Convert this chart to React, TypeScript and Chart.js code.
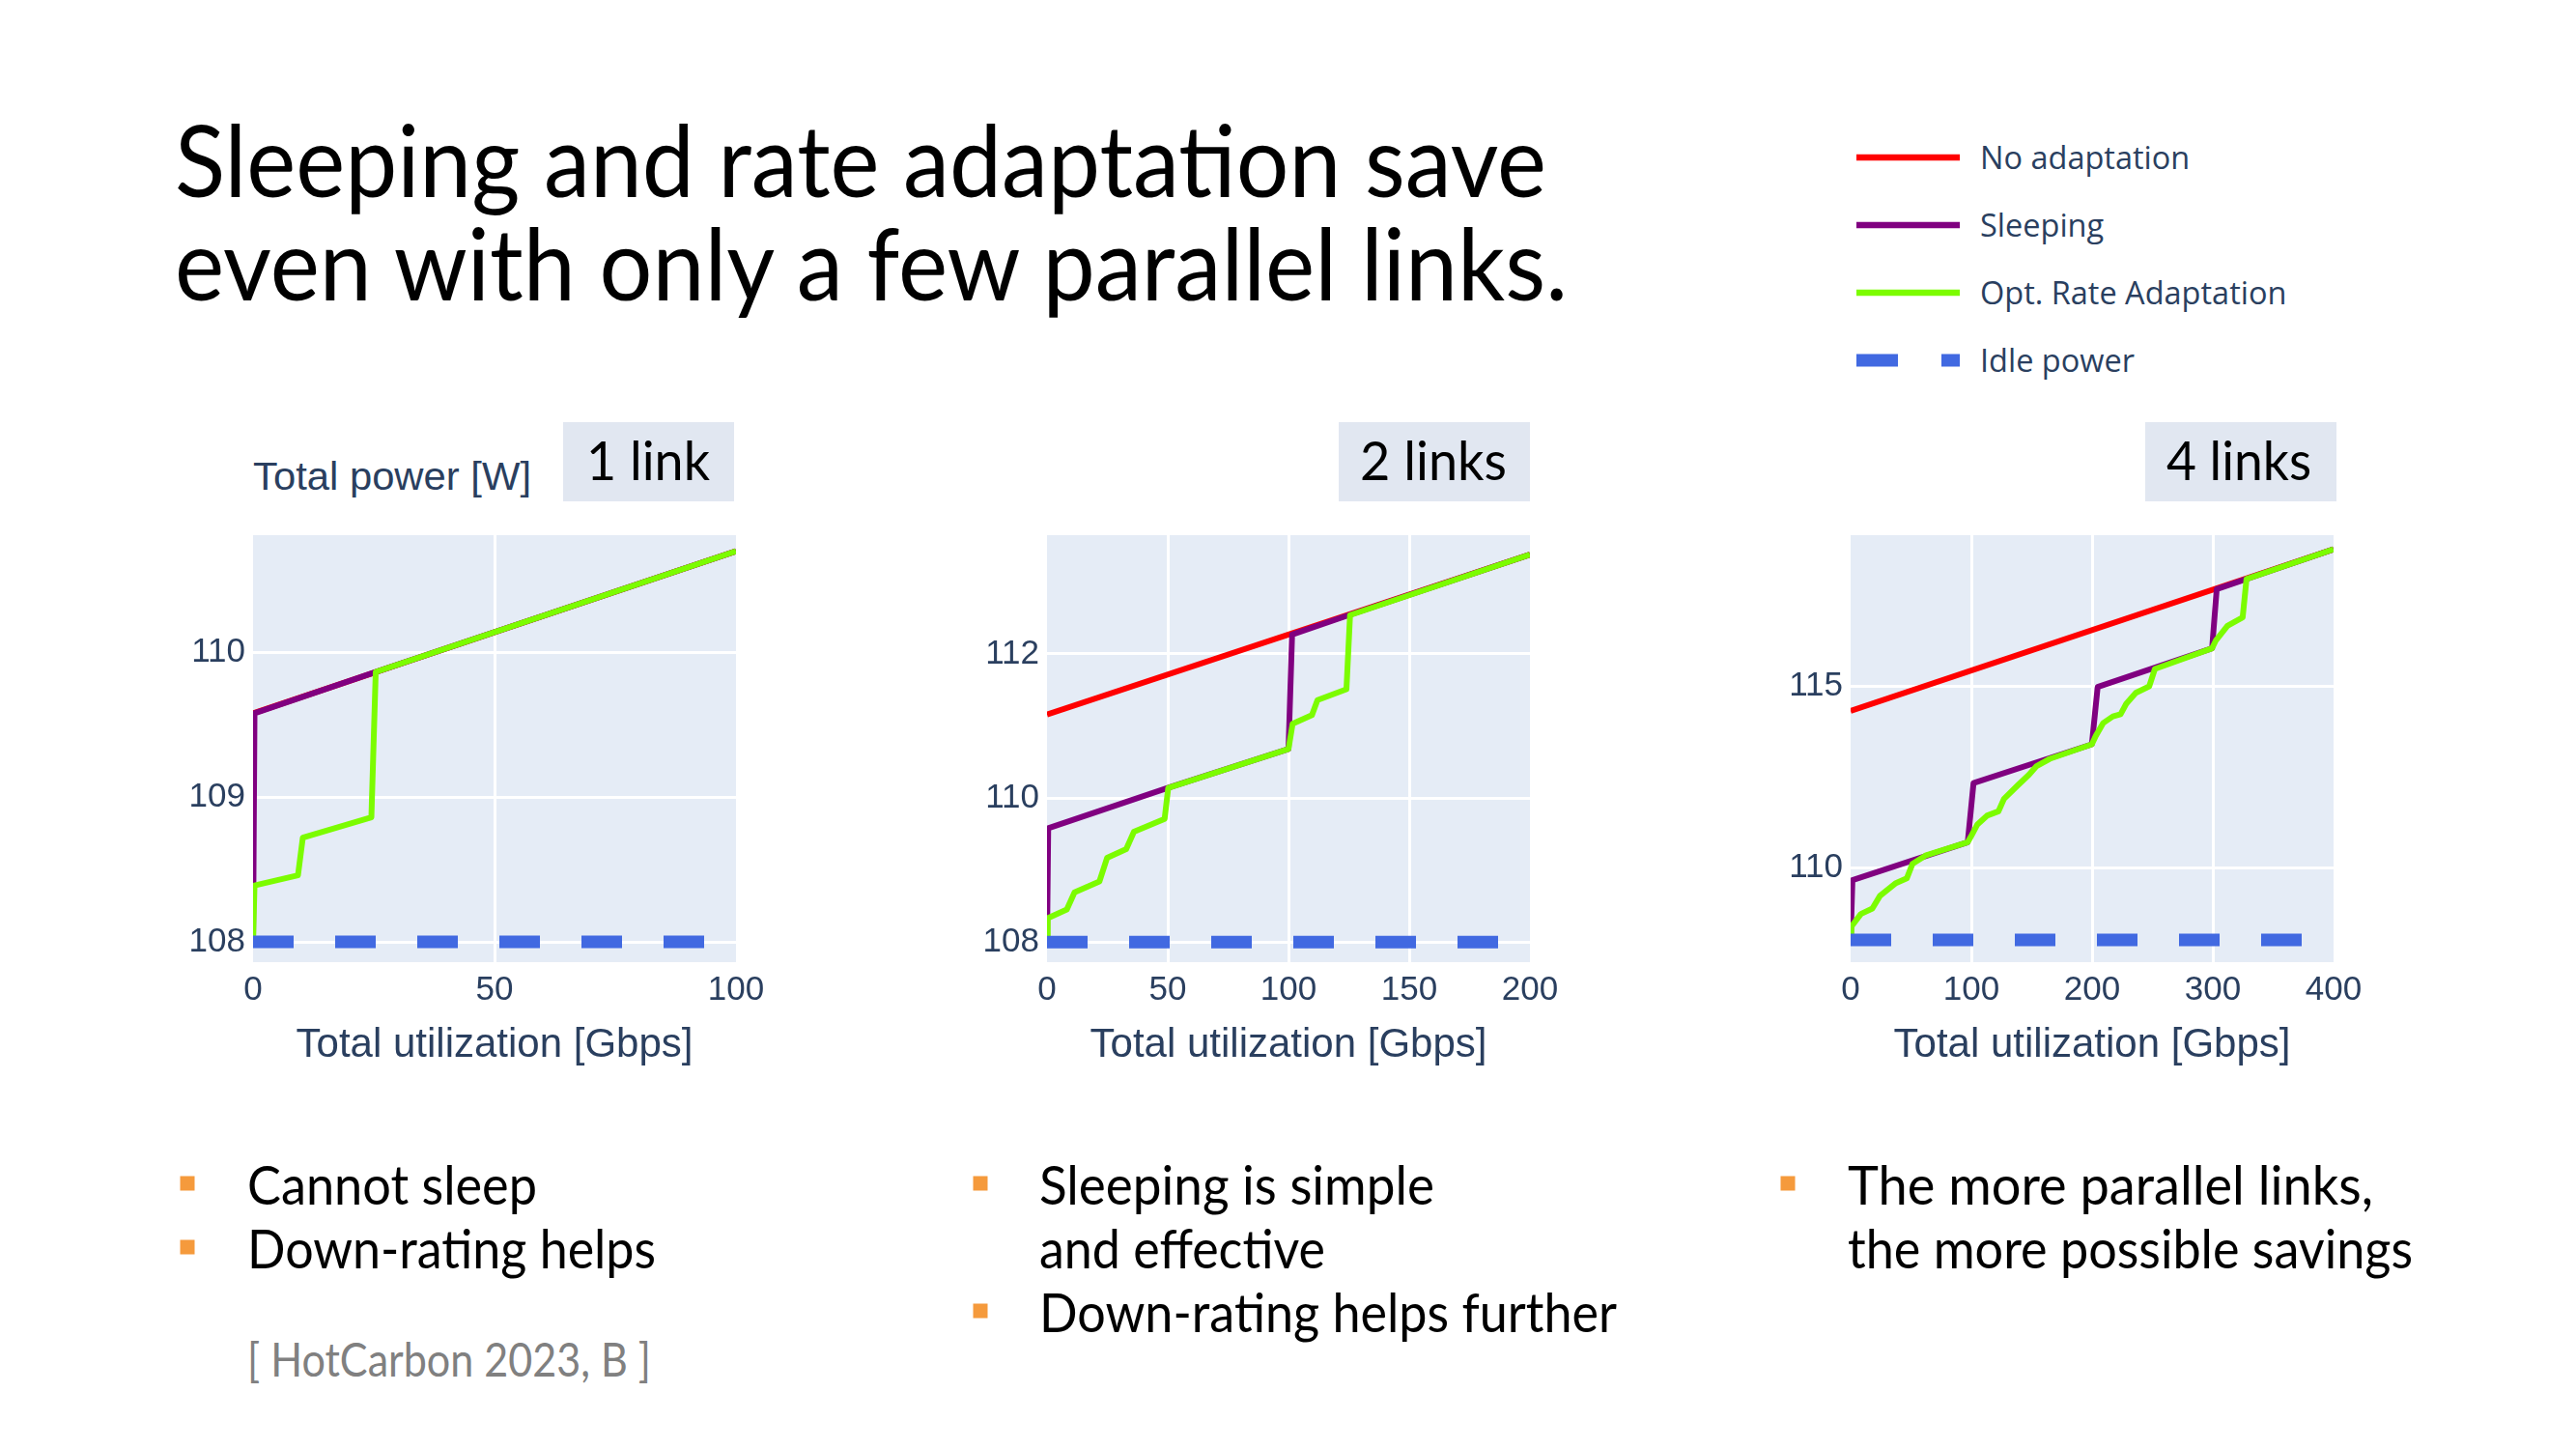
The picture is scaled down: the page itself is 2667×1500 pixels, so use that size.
import React, { useEffect, useRef } from 'react';
import { Chart, registerables } from 'chart.js';

Chart.register(...registerables);

type Pt = [number, number];

// ---------------- data ----------------
const seriesNames = ['No adaptation', 'Sleeping', 'Opt. Rate Adaptation', 'Idle power'];
const seriesColors = ['#FF0000', '#800080', '#7CFC00', '#4169E1'];

const xAxisTitle = 'Total utilization [Gbps]';
const yAxisTitle = 'Total power [W]';
const panelLabels = ['1 link', '2 links', '4 links'];

// 1 link
const xTicks1 = [0, 50, 100];
const yTicks1 = [108, 109, 110];
const noAdapt1: Pt[] = [[0, 109.58], [100, 110.7]];
const sleeping1: Pt[] = [[0, 108], [0.3, 109.58], [25.4, 109.865], [100, 110.7]];
const rateAdapt1: Pt[] = [[0, 108], [0.3, 108.39], [9.3, 108.46], [10.3, 108.72], [24.5, 108.86], [25.4, 109.865], [100, 110.7]];
const idle1: Pt[] = [[0, 108], [100, 108]];

// 2 links
const xTicks2 = [0, 50, 100, 150, 200];
const yTicks2 = [108, 110, 112];
const noAdapt2: Pt[] = [[0, 111.16], [200, 113.38]];
const sleeping2: Pt[] = [[0, 108], [0.5, 109.58], [50, 110.14], [100, 110.68], [101.5, 112.27], [125, 112.54], [200, 113.38]];
const rateAdapt2: Pt[] = [[0, 108], [0.3, 108.33], [8.2, 108.45], [11.4, 108.69], [21.7, 108.84], [24.9, 109.17], [32.8, 109.29], [36, 109.53], [48.7, 109.71], [50.2, 110.14], [100, 110.68], [101.7, 111.03], [109.7, 111.15], [112, 111.36], [124, 111.51], [125.5, 112.54], [200, 113.38]];
const idle2: Pt[] = [[0, 108], [200, 108]];

// 4 links
const xTicks3 = [0, 100, 200, 300, 400];
const yTicks3 = [110, 115];
const noAdapt3: Pt[] = [[0, 114.32], [400, 118.78]];
const sleeping3: Pt[] = [[0, 108], [1.5, 109.65], [97, 110.7], [101.8, 112.33], [199.8, 113.4], [204.6, 114.98], [299.4, 116.05], [303.2, 117.68], [400, 118.78]];
const rateAdapt3: Pt[] = [[0, 108], [0.6, 108.37], [8.5, 108.72], [18, 108.87], [24.3, 109.22], [37, 109.56], [46.5, 109.7], [51.2, 110.1], [62, 110.33], [97, 110.7], [100.2, 110.89], [105, 111.19], [112.9, 111.43], [122.4, 111.55], [127.1, 111.9], [138.2, 112.26], [147.7, 112.56], [154, 112.8], [165, 113.0], [199.8, 113.4], [203, 113.63], [209.3, 113.99], [217.2, 114.17], [223.6, 114.23], [228.3, 114.52], [236.2, 114.82], [247.3, 115.0], [252, 115.48], [299.4, 116.05], [302.6, 116.27], [312.1, 116.67], [324.7, 116.9], [327.9, 117.96], [400, 118.78]];
const idle3: Pt[] = [[0, 108], [400, 108]];

// slide text
const titleLines = ['Sleeping and rate adaptation save', 'even with only a few parallel links.'];
const bulletsCol1 = ['Cannot sleep', 'Down-rating helps'];
const citation = '[ HotCarbon 2023, B ]';
const bulletsCol2 = ['Sleeping is simple', 'and effective', 'Down-rating helps further'];
const bulletsCol3 = ['The more parallel links,', 'the more possible savings'];

// ---------------- style / geometry ----------------
const SLIDE_FONT = "Lato, 'DejaVu Sans', sans-serif";
const PLOT_FONT = "'Liberation Sans', Arial, sans-serif";
const LEGEND_FONT = "'Open Sans', sans-serif";
const AXIS_COLOR = '#2a3f5f';
const PLOT_BG = '#E5ECF6';
const BOX_BG = '#E1E7F1';
const BULLET_COLOR = '#F59A3C';

const PLOT_TOP = 554;
const PLOT_W = 500;
const PLOT_H = 442;
const Y_AXIS_W = 100;
const X_AXIS_H = 130;
const PAD_T = 10;
const PAD_R = 50;
const CANVAS_W = Y_AXIS_W + PLOT_W + PAD_R;
const CANVAS_H = PAD_T + PLOT_H + X_AXIS_H;
const LINE_W = 6;

const plotBg = {
  id: 'plotBg',
  beforeDraw(chart: any) {
    const { ctx, chartArea: a } = chart;
    ctx.save();
    ctx.fillStyle = PLOT_BG;
    ctx.fillRect(a.left, a.top, a.right - a.left, a.bottom - a.top);
    ctx.restore();
  },
};

type ChartProps = {
  left: number;
  xMax: number;
  yMin: number;
  yMax: number;
  xTicks: number[];
  yTicks: number[];
  noAdapt: Pt[];
  sleeping: Pt[];
  rateAdapt: Pt[];
  idle: Pt[];
};

function PowerChart(p: ChartProps) {
  const ref = useRef<HTMLCanvasElement | null>(null);
  useEffect(() => {
    const canvas = ref.current;
    if (!canvas) return;
    const toXY = (a: Pt[]) => a.map(([x, y]) => ({ x, y }));
    const ds = (i: number, pts: Pt[], extra: any = {}) => ({
      label: seriesNames[i],
      data: toXY(pts),
      borderColor: seriesColors[i],
      backgroundColor: seriesColors[i],
      borderWidth: LINE_W,
      pointRadius: 0,
      pointHoverRadius: 0,
      tension: 0,
      fill: false,
      borderJoinStyle: 'round',
      order: 3 - i,
      ...extra,
    });
    const tickFont = { family: PLOT_FONT, size: 35 };
    const chart = new Chart(canvas, {
      type: 'line',
      data: {
        datasets: [
          ds(0, p.noAdapt),
          ds(1, p.sleeping),
          ds(2, p.rateAdapt),
          ds(3, p.idle, { borderWidth: 13, borderDash: [42, 43], borderJoinStyle: 'miter' }),
        ] as any,
      },
      options: {
        responsive: false,
        animation: false,
        devicePixelRatio: 1,
        events: [],
        layout: { padding: { top: PAD_T, right: PAD_R, left: 0, bottom: 0 } },
        plugins: { legend: { display: false }, tooltip: { enabled: false }, title: { display: false } },
        scales: {
          x: {
            type: 'linear',
            min: 0,
            max: p.xMax,
            afterBuildTicks: (axis: any) => {
              axis.ticks = p.xTicks.map((v) => ({ value: v }));
            },
            afterFit: (axis: any) => {
              axis.height = X_AXIS_H;
              axis.paddingLeft = 0;
              axis.paddingRight = 0;
            },
            grid: {
              drawTicks: false,
              lineWidth: 3,
              color: (c: any) =>
                c.tick && (c.tick.value === 0 || c.tick.value === p.xMax) ? 'rgba(255,255,255,0)' : '#ffffff',
            },
            border: { display: false },
            ticks: {
              padding: 8,
              autoSkip: false,
              maxRotation: 0,
              minRotation: 0,
              color: AXIS_COLOR,
              font: tickFont,
              callback: (v: any) => String(v),
            },
            title: {
              display: true,
              text: xAxisTitle,
              color: AXIS_COLOR,
              font: { family: PLOT_FONT, size: 42 },
              padding: { top: 0, bottom: 18 },
            },
          },
          y: {
            type: 'linear',
            min: p.yMin,
            max: p.yMax,
            afterBuildTicks: (axis: any) => {
              axis.ticks = p.yTicks.map((v) => ({ value: v }));
            },
            afterFit: (axis: any) => {
              axis.width = Y_AXIS_W;
              axis.paddingTop = 0;
              axis.paddingBottom = 0;
            },
            grid: { drawTicks: false, lineWidth: 3, color: '#ffffff' },
            border: { display: false },
            ticks: {
              padding: 8,
              autoSkip: false,
              color: AXIS_COLOR,
              font: tickFont,
              callback: (v: any) => String(v),
            },
          },
        },
      } as any,
      plugins: [plotBg],
    });
    return () => chart.destroy();
  }, []);
  return (
    <canvas
      ref={ref}
      width={CANVAS_W}
      height={CANVAS_H}
      style={{ position: 'absolute', left: p.left - Y_AXIS_W, top: PLOT_TOP - PAD_T, width: CANVAS_W, height: CANVAS_H }}
    />
  );
}

function SText(props: { x: number; y: number; w?: number; size: number; font?: string; color?: string; children: string }) {
  const { x, y, w, size, font = SLIDE_FONT, color = '#000', children } = props;
  const extra: any = w ? { textLength: w, lengthAdjust: 'spacingAndGlyphs' } : {};
  return (
    <text x={x} y={y} fontFamily={font} fontSize={size} fill={color} {...extra}>
      {children}
    </text>
  );
}

function Bullet({ cx, baseline }: { cx: number; baseline: number }) {
  return <rect x={cx - 7.5} y={baseline - 22 - 7.5} width={15} height={15} fill={BULLET_COLOR} />;
}

export default function App() {
  const legendY = [163, 233, 303, 373];
  return (
    <div style={{ position: 'absolute', left: 0, top: 0, width: 2667, height: 1500, overflow: 'hidden', background: '#fff' }}>
      <svg width={2667} height={1500} style={{ position: 'absolute', left: 0, top: 0 }}>
        {/* title */}
        <SText x={181} y={204} w={1420} size={102}>{titleLines[0]}</SText>
        <SText x={181} y={311} w={1442} size={102}>{titleLines[1]}</SText>

        {/* legend */}
        {seriesNames.map((name, i) => (
          <g key={name}>
            {i < 3 ? (
              <line x1={1922} x2={2029} y1={legendY[i]} y2={legendY[i]} stroke={seriesColors[i]} strokeWidth={6.5} />
            ) : (
              <line x1={1922} x2={2029} y1={legendY[i]} y2={legendY[i]} stroke={seriesColors[i]} strokeWidth={13} strokeDasharray="43 45" />
            )}
            <SText x={2050} y={legendY[i] + 12} size={32.5} font={LEGEND_FONT} color={AXIS_COLOR}>{name}</SText>
          </g>
        ))}

        {/* y axis title */}
        <SText x={262} y={507} w={288} size={41} font={PLOT_FONT} color={AXIS_COLOR}>{yAxisTitle}</SText>

        {/* panel labels */}
        <rect x={583} y={437} width={177} height={82} fill={BOX_BG} />
        <SText x={607} y={497} w={128} size={57}>{panelLabels[0]}</SText>
        <rect x={1386} y={437} width={198} height={82} fill={BOX_BG} />
        <SText x={1408} y={497} w={152} size={57}>{panelLabels[1]}</SText>
        <rect x={2221} y={437} width={198} height={82} fill={BOX_BG} />
        <SText x={2243} y={497} w={150} size={57}>{panelLabels[2]}</SText>

        {/* bullets column 1 */}
        <Bullet cx={194} baseline={1247} />
        <SText x={256} y={1247} w={300} size={57}>{bulletsCol1[0]}</SText>
        <Bullet cx={194} baseline={1313} />
        <SText x={256} y={1313} w={423} size={57}>{bulletsCol1[1]}</SText>
        <SText x={256} y={1425} w={418} size={48} color="#808080">{citation}</SText>

        {/* bullets column 2 */}
        <Bullet cx={1015} baseline={1247} />
        <SText x={1076} y={1247} w={409} size={57}>{bulletsCol2[0]}</SText>
        <SText x={1076} y={1313} w={296} size={57}>{bulletsCol2[1]}</SText>
        <Bullet cx={1015} baseline={1379} />
        <SText x={1076} y={1379} w={598} size={57}>{bulletsCol2[2]}</SText>

        {/* bullets column 3 */}
        <Bullet cx={1851} baseline={1247} />
        <SText x={1913} y={1247} w={544} size={57}>{bulletsCol3[0]}</SText>
        <SText x={1913} y={1313} w={585} size={57}>{bulletsCol3[1]}</SText>
      </svg>

      <PowerChart left={262} xMax={100} yMin={107.86} yMax={110.81} xTicks={xTicks1} yTicks={yTicks1}
        noAdapt={noAdapt1} sleeping={sleeping1} rateAdapt={rateAdapt1} idle={idle1} />
      <PowerChart left={1084} xMax={200} yMin={107.72} yMax={113.65} xTicks={xTicks2} yTicks={yTicks2}
        noAdapt={noAdapt2} sleeping={sleeping2} rateAdapt={rateAdapt2} idle={idle2} />
      <PowerChart left={1916} xMax={400} yMin={107.39} yMax={119.17} xTicks={xTicks3} yTicks={yTicks3}
        noAdapt={noAdapt3} sleeping={sleeping3} rateAdapt={rateAdapt3} idle={idle3} />
    </div>
  );
}
